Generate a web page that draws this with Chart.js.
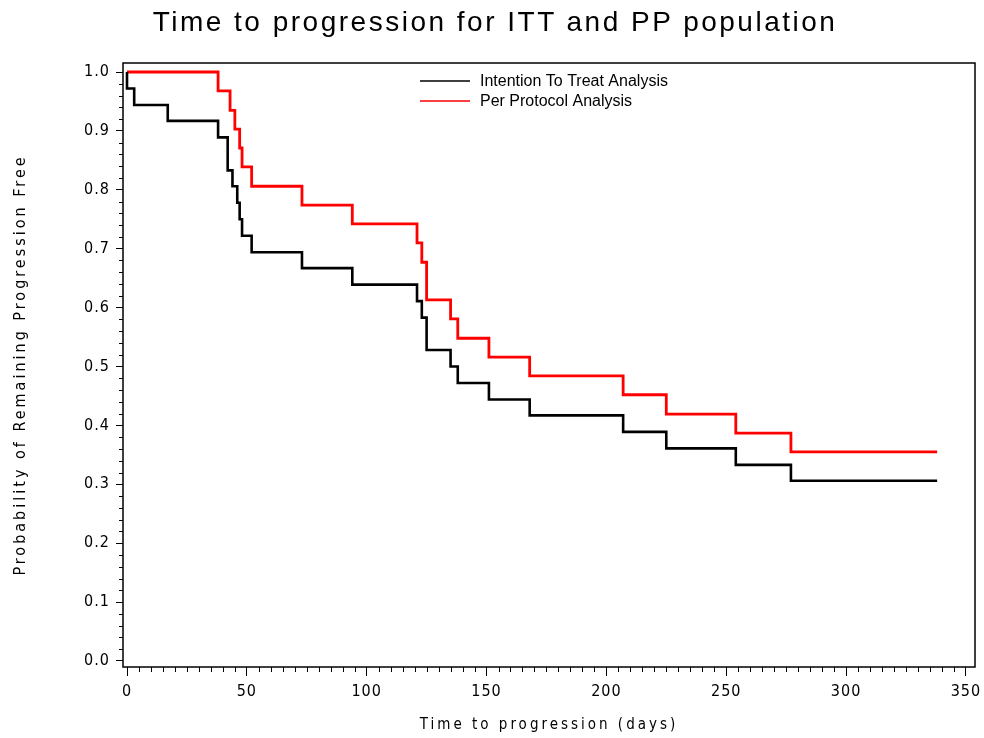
<!DOCTYPE html>
<html lang="en">
<head>
    <meta charset="UTF-8">
    <title>Time to progression for ITT and PP population</title>
    <script src="https://cdn.jsdelivr.net/npm/chart.js"></script>
    <style>
        body { margin: 0; background: #fff; }
        #wrap { position: relative; width: 984px; height: 738px; }
        #title {
            position: absolute; left: 3px; top: 8px; width: 984px;
            text-align: center; font-family: "Liberation Sans", Arial, sans-serif;
            font-size: 28px; line-height: 28px; letter-spacing: 2.5px; color: #000;
        }
    </style>
</head>
<body>
<div id="wrap">
    <div id="title">Time to progression for ITT and PP population</div>
    <canvas id="kmChart" width="984" height="738"></canvas>
</div>

<script>
// Kaplan-Meier steps (day, survival after that day)
const ittDays = [0, 0, 3, 17, 38, 42, 44, 46, 47, 48, 52, 73, 94, 121, 123, 125, 135, 138, 151, 168, 207, 225, 254, 277, 338];
const ittSurv = [1.000, 0.972, 0.944, 0.917, 0.889, 0.833, 0.806, 0.778, 0.750, 0.722, 0.694, 0.667, 0.639, 0.611, 0.583, 0.528, 0.500, 0.472, 0.444, 0.417, 0.389, 0.361, 0.333, 0.306, 0.306];

const ppDays = [0, 38, 43, 45, 47, 48, 52, 73, 94, 121, 123, 125, 135, 138, 151, 168, 207, 225, 254, 277, 338];
const ppSurv = [1.000, 0.968, 0.935, 0.903, 0.871, 0.839, 0.806, 0.774, 0.742, 0.710, 0.677, 0.613, 0.581, 0.548, 0.516, 0.484, 0.452, 0.419, 0.387, 0.355, 0.355];

const seriesNames = ['Intention To Treat Analysis', 'Per Protocol Analysis'];
const xTicks = [0, 50, 100, 150, 200, 250, 300, 350];
const yTicks = [0.0, 0.1, 0.2, 0.3, 0.4, 0.5, 0.6, 0.7, 0.8, 0.9, 1.0];

const narrow = "'Liberation Sans Narrow', 'DejaVu Sans Condensed', 'DejaVu Sans Mono'";
const tickFont = { family: narrow, size: 16 };

function toPoints(days, surv) {
    return days.map((d, i) => ({ x: d, y: surv[i] }));
}

// SAS-style: spaced axis text, box frame, minor ticks, legend inside the plot
const sasLook = {
    id: 'sasLook',
    beforeDraw(chart) {
        // axis titles are drawn with the grid layer (z -1)
        chart.ctx.letterSpacing = '3px';
    },
    afterDatasetsDraw(chart) {
        // tick labels come after (ticks.z = 1)
        chart.ctx.letterSpacing = '1px';
    },
    afterDraw(chart) {
        const ctx = chart.ctx;
        const a = chart.chartArea;
        const xs = chart.scales.x, ys = chart.scales.y;
        ctx.save();
        ctx.letterSpacing = '0px';
        ctx.strokeStyle = '#000';
        ctx.lineWidth = 1.5;
        ctx.strokeRect(a.left, a.top, a.right - a.left, a.bottom - a.top);

        // minor ticks
        ctx.lineWidth = 1;
        ctx.beginPath();
        for (let v = 0; v <= 350; v += 5) {
            if (v % 50 === 0) continue;
            const px = Math.round(xs.getPixelForValue(v)) + 0.5;
            ctx.moveTo(px, a.bottom);
            ctx.lineTo(px, a.bottom + 5);
        }
        for (let k = 0; k <= 50; k++) {
            if (k % 5 === 0) continue;
            const py = Math.round(ys.getPixelForValue(k * 0.02)) + 0.5;
            ctx.moveTo(a.left - 4, py);
            ctx.lineTo(a.left, py);
        }
        ctx.stroke();

        // legend
        ctx.font = '16px "Liberation Sans", Arial, sans-serif';
        ctx.textBaseline = 'middle';
        chart.data.datasets.forEach((ds, i) => {
            const y = 81 + i * 20;
            ctx.strokeStyle = ds.borderColor;
            ctx.lineWidth = 1.5;
            ctx.beginPath();
            ctx.moveTo(420, y);
            ctx.lineTo(470, y);
            ctx.stroke();
            ctx.fillStyle = '#000';
            ctx.fillText(ds.label, 480, y + 1);
        });
        ctx.restore();
    }
};

new Chart(document.getElementById('kmChart'), {
    type: 'line',
    data: {
        datasets: [
            {
                label: seriesNames[0],
                data: toPoints(ittDays, ittSurv),
                borderColor: '#000000',
                borderWidth: 2.6,
                stepped: true,
                pointRadius: 0,
                fill: false
            },
            {
                label: seriesNames[1],
                data: toPoints(ppDays, ppSurv),
                borderColor: '#ff0000',
                borderWidth: 2.8,
                stepped: true,
                pointRadius: 0,
                fill: false
            }
        ]
    },
    options: {
        responsive: false,
        devicePixelRatio: 1,
        animation: false,
        layout: { padding: { top: 63, right: 9, left: 0, bottom: 0 } },
        plugins: {
            legend: { display: false },
            tooltip: { enabled: false }
        },
        scales: {
            x: {
                type: 'linear',
                min: -1.67,
                max: 353.8,
                afterBuildTicks: s => { s.ticks = xTicks.map(v => ({ value: v })); },
                afterFit: s => { s.height = 71; s.paddingLeft = 0; s.paddingRight = 0; },
                ticks: { font: tickFont, color: '#000', padding: 6, maxRotation: 0, autoSkip: false, z: 1 },
                grid: { drawOnChartArea: false, tickLength: 9, color: '#000', lineWidth: 1 },
                border: { display: false },
                title: {
                    display: true,
                    text: 'Time to progression (days)',
                    font: { family: narrow, size: 15 },
                    color: '#000',
                    padding: { top: 0, bottom: 4 }
                }
            },
            y: {
                type: 'linear',
                min: -0.0102,
                max: 1.0153,
                afterBuildTicks: s => { s.ticks = yTicks.map(v => ({ value: v })); },
                afterFit: s => { s.width = 123; s.paddingTop = 0; s.paddingBottom = 0; },
                ticks: {
                    font: tickFont, color: '#000', padding: 6, z: 1,
                    callback: v => v.toFixed(1)
                },
                grid: { drawOnChartArea: false, tickLength: 7, color: '#000', lineWidth: 1 },
                border: { display: false },
                title: {
                    display: true,
                    text: 'Probability of Remaining Progression Free',
                    font: { family: narrow, size: 16 },
                    color: '#000',
                    padding: { top: 11, bottom: 0 }
                }
            }
        }
    },
    plugins: [sasLook]
});
</script>
</body>
</html>
